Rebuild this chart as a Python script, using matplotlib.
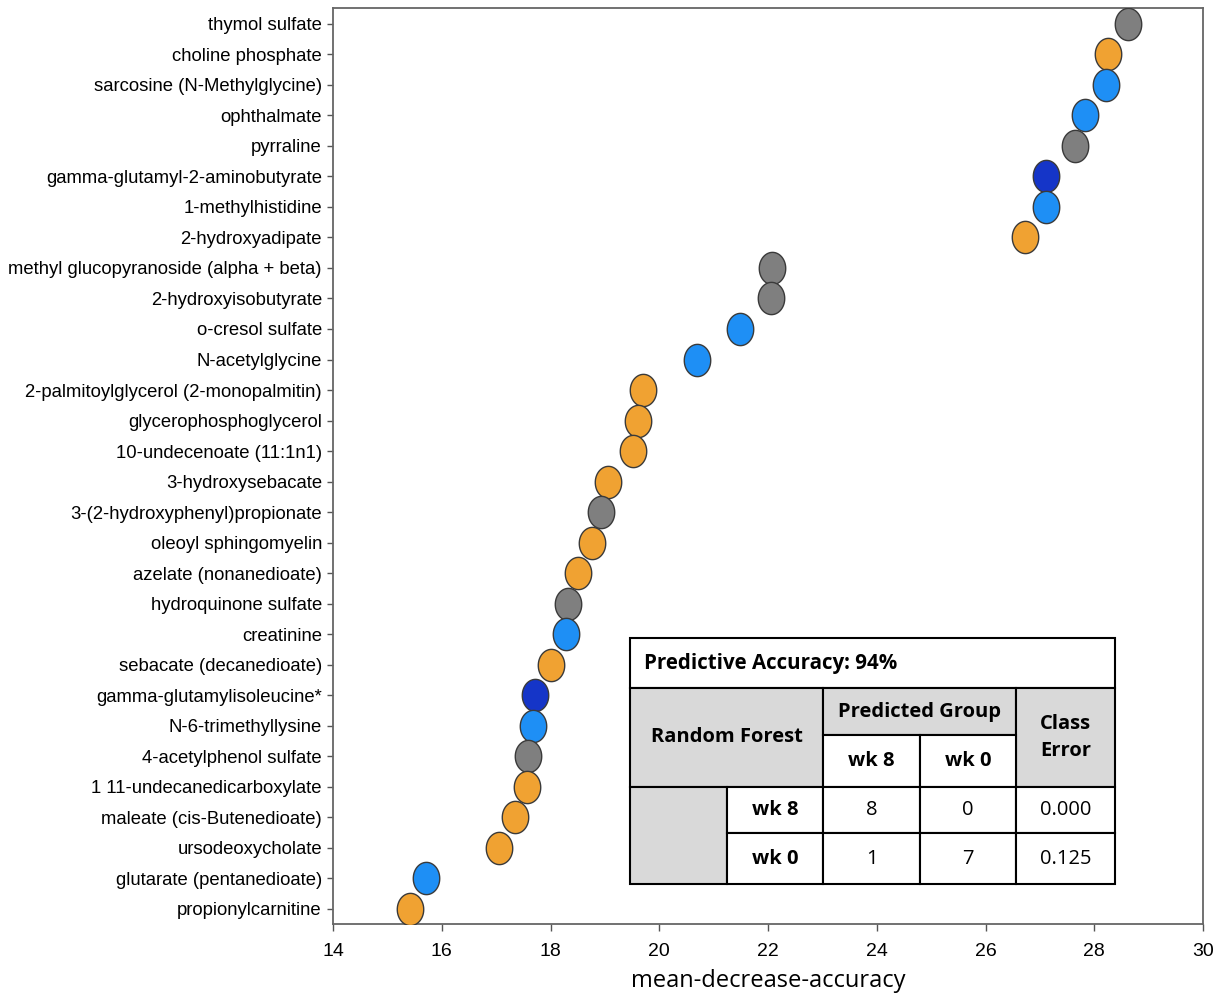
import matplotlib
matplotlib.use("Agg")
import matplotlib.pyplot as plt
import numpy as np
from matplotlib.path import Path
from matplotlib.patches import Rectangle

metabolites = [
    "thymol sulfate", "choline phosphate", "sarcosine (N-Methylglycine)", "ophthalmate",
    "pyrraline", "gamma-glutamyl-2-aminobutyrate", "1-methylhistidine", "2-hydroxyadipate",
    "methyl glucopyranoside (alpha + beta)", "2-hydroxyisobutyrate", "o-cresol sulfate",
    "N-acetylglycine", "2-palmitoylglycerol (2-monopalmitin)", "glycerophosphoglycerol",
    "10-undecenoate (11:1n1)", "3-hydroxysebacate", "3-(2-hydroxyphenyl)propionate",
    "oleoyl sphingomyelin", "azelate (nonanedioate)", "hydroquinone sulfate", "creatinine",
    "sebacate (decanedioate)", "gamma-glutamylisoleucine*", "N-6-trimethyllysine",
    "4-acetylphenol sulfate", "1 11-undecanedicarboxylate", "maleate (cis-Butenedioate)",
    "ursodeoxycholate", "glutarate (pentanedioate)", "propionylcarnitine",
]
mda = [28.62, 28.25, 28.22, 27.83, 27.65, 27.11, 27.11, 26.73,
       22.07, 22.05, 21.48, 20.70, 19.71, 19.60, 19.51, 19.05, 18.92,
       18.77, 18.51, 18.33, 18.29, 18.01, 17.72, 17.68, 17.59, 17.57,
       17.35, 17.06, 15.71, 15.42]
groups = ["gray", "orange", "blue", "blue", "gray", "navy", "blue", "orange",
          "gray", "gray", "blue", "blue", "orange", "orange", "orange", "orange", "gray",
          "orange", "orange", "gray", "blue", "orange", "navy", "blue", "gray", "orange",
          "orange", "orange", "blue", "orange"]
palette = {"gray": "#7f7f7f", "orange": "#F0A232", "blue": "#1E8FF5", "navy": "#1535C8"}

xticks = [14, 16, 18, 20, 22, 24, 26, 28, 30]

table_title = "Predictive Accuracy: 94%"
row_header = "Random Forest"
col_header = "Predicted Group"
classes = ["wk 8", "wk 0"]
confusion = [[8, 0], [1, 7]]
class_error = ["0.000", "0.125"]

W, H = 1222, 994
fig = plt.figure(figsize=(W / 100, H / 100), dpi=100)
ax = fig.add_axes([333 / W, 1 - 924 / H, (1203 - 333) / W, (924 - 8) / H])

# elliptical marker
t = np.linspace(0, 2 * np.pi, 60)
ell = Path(np.column_stack([np.cos(t), 1.22 * np.sin(t)]), closed=True)

y = np.arange(len(metabolites))
for yi, xi, g in zip(y, mda, groups):
    ax.scatter(xi, yi, s=540, marker=ell, facecolor=palette[g], edgecolor="#3a3a3a",
               linewidth=1.0, zorder=3)

ax.set_xlim(14, 30)
ax.set_ylim(len(metabolites) - 0.5, -0.52)
ax.set_xticks(xticks)
ax.set_xticklabels([str(v) for v in xticks], family="Liberation Sans", fontsize=14)
ax.set_yticks(y)
ax.set_yticklabels(metabolites, family="Liberation Sans", fontsize=13.3)
ax.tick_params(axis="y", length=4, width=1, color="#555555", pad=4)
ax.tick_params(axis="x", length=5, width=1, color="#555555", pad=9)
for s in ax.spines.values():
    s.set_color("#666666")
    s.set_linewidth(1.3)
ax.set_xlabel("mean-decrease-accuracy", family="Open Sans", fontsize=17, labelpad=6)

# table drawn in its own axes
tx0, tx1, ty0, ty1 = 630, 1115, 638, 884
tax = fig.add_axes([tx0 / W, 1 - ty1 / H, (tx1 - tx0) / W, (ty1 - ty0) / H])
tax.set_xlim(tx0, tx1)
tax.set_ylim(ty1, ty0)
tax.axis("off")
cols = [630, 727, 823, 920, 1016, 1115]
rows = [638, 688, 735, 787, 833, 884]
grey = "#D9D9D9"

def cell(c0, c1, r0, r1, fc, text=None, fs=14.5, ha="center", bold=True):
    tax.add_patch(Rectangle((cols[c0], rows[r0]), cols[c1] - cols[c0], rows[r1] - rows[r0],
                            facecolor=fc, edgecolor="black", linewidth=1.5, clip_on=False))
    if text is not None:
        if ha == "center":
            xx = (cols[c0] + cols[c1]) / 2
        else:
            xx = cols[c0] + 14
        tax.text(xx, (rows[r0] + rows[r1]) / 2, text, ha=ha, va="center",
                 fontsize=fs, family="Open Sans", fontweight="bold" if bold else "normal",
                 linespacing=1.45)

cell(0, 5, 0, 1, "white", table_title, ha="left", fs=14.8)
cell(0, 2, 1, 3, grey, row_header)
cell(2, 4, 1, 2, grey, col_header)
cell(4, 5, 1, 3, grey, "Class\nError")
cell(2, 3, 2, 3, "white", classes[0])
cell(3, 4, 2, 3, "white", classes[1])
cell(0, 1, 3, 5, grey)
for i in range(2):
    cell(1, 2, 3 + i, 4 + i, "white", classes[i])
    for j in range(2):
        cell(2 + j, 3 + j, 3 + i, 4 + i, "white", str(confusion[i][j]), bold=False)
    cell(4, 5, 3 + i, 4 + i, "white", class_error[i], bold=False)

fig.savefig("out.png", dpi=100)
